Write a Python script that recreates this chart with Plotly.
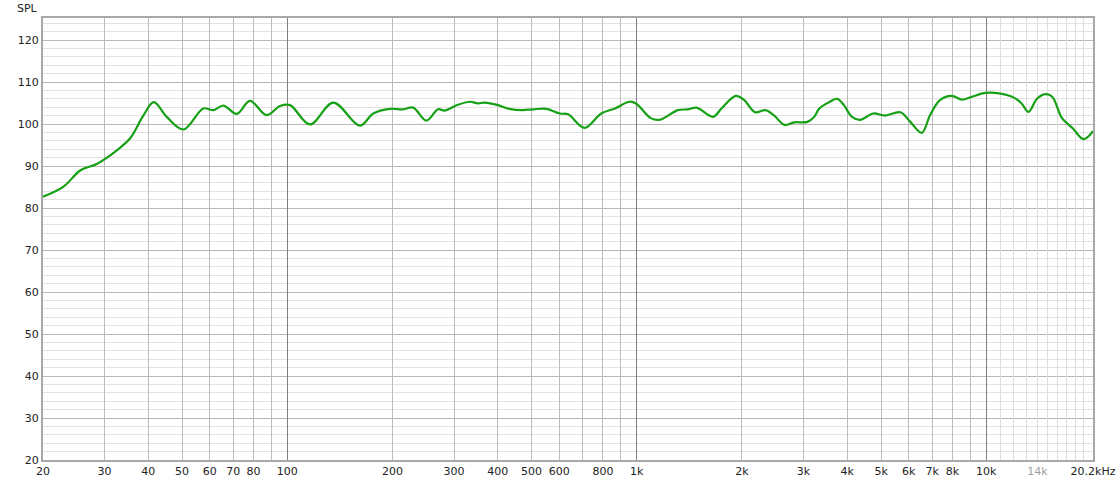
import plotly.graph_objects as go
import math

# ---- data ----
freq_hz = [20, 22.9, 25.6, 28.5, 32.6, 35.5, 38.8, 41.5, 45.2, 50.5, 57.5, 61.5, 65.6,
           71.7, 78.2, 87.3, 95.3, 101.8, 116.1, 135.4, 161.3, 176.2, 196.6, 214.6,
           229.2, 250, 270, 282, 304, 333, 351, 367, 401, 432, 472, 505, 551, 603,
           636, 709, 791, 866, 953, 995, 1097, 1160, 1312, 1402, 1483, 1653, 1747,
           1920, 2029, 2180, 2333, 2467, 2643, 2820, 3080, 3218, 3329, 3551, 3748,
           3913, 4128, 4358, 4753, 5137, 5676, 6063, 6539, 6904, 7371, 7970, 8518,
           9100, 9955, 10880, 11920, 12620, 13210, 13970, 14780, 15440, 16470,
           17670, 18980, 20200]
spl_db = [82.7, 85.1, 89.0, 90.5, 93.8, 96.6, 102.1, 105.2, 101.7, 98.7, 103.7, 103.3,
          104.4, 102.4, 105.5, 102.1, 104.3, 104.5, 99.9, 105.1, 99.6, 102.5, 103.6,
          103.5, 103.9, 100.8, 103.5, 103.2, 104.4, 105.3, 104.9, 105.1, 104.5, 103.6,
          103.3, 103.5, 103.6, 102.5, 102.3, 99.1, 102.5, 103.7, 105.3, 104.9, 101.4,
          101.0, 103.3, 103.5, 103.9, 101.7, 103.7, 106.7, 105.7, 102.8, 103.3, 102.1,
          99.8, 100.4, 100.5, 101.7, 103.7, 105.2, 106.0, 104.5, 101.7, 101.0, 102.5,
          102.0, 102.8, 100.5, 97.9, 102.1, 105.7, 106.7, 105.8, 106.5, 107.4, 107.3,
          106.4, 104.9, 102.9, 106.0, 107.1, 106.5, 101.4, 99.0, 96.4, 98.3]

label_vals = [20, 30, 40, 50, 60, 70, 80, 100, 200, 300, 400, 500, 600, 800, 1000,
              2000, 3000, 4000, 5000, 6000, 7000, 8000, 10000, 14000, 20200]
label_text = ["20", "30", "40", "50", "60", "70", "80", "100", "200", "300", "400", "500",
              "600", "800", "1k", "2k", "3k", "4k", "5k", "6k", "7k", "8k", "10k",
              '<span style="color:#a0a0a0">14k</span>', "20.2kHz"]
grid_normal = [30, 40, 50, 60, 70, 80, 90, 200, 300, 400, 500, 600, 700, 800, 900,
               2000, 3000, 4000, 5000, 6000, 7000, 8000, 9000]
grid_decade = [100, 1000, 10000]
grid_light = [11000, 12000, 13000, 14000, 15000, 16000, 17000, 18000, 19000]
y_ticks = [20, 30, 40, 50, 60, 70, 80, 90, 100, 110, 120]

xr = [math.log10(20), math.log10(20200)]
yr = [20, 125.24]
font = dict(family="DejaVu Sans", size=11, color="#222222")

fig = go.Figure()
for ax in ["x2", "x3", "x4"]:
    fig.add_trace(go.Scatter(x=[], y=[], xaxis=ax, yaxis="y", showlegend=False,
                             hoverinfo="skip"))
fig.add_trace(go.Scatter(x=freq_hz, y=spl_db, mode="lines",
                         line=dict(color="#16a016", width=2.2, shape="spline",
                                   smoothing=1.0),
                         showlegend=False))

common = dict(type="log", range=xr, showticklabels=False, ticks="", overlaying="x",
              anchor="y", showline=False, zeroline=False, gridwidth=1)
fig.update_layout(
    width=1116, height=484,
    margin=dict(l=43, r=23, t=18, b=24, autoexpand=False),
    paper_bgcolor="white", plot_bgcolor="white",
    font=font,
    xaxis=dict(type="log", range=xr, tickvals=label_vals, ticktext=label_text,
               showgrid=False, ticks="", zeroline=False, tickfont=font,
               showline=True, mirror=True, linecolor="#a8a8a8", linewidth=2,
               automargin=False),
    xaxis2=dict(tickvals=grid_normal, showgrid=True, gridcolor="#bcbcbc", **common),
    xaxis3=dict(tickvals=grid_decade, showgrid=True, gridcolor="#7f7f7f", **common),
    xaxis4=dict(tickvals=grid_light, showgrid=True, gridcolor="#dedede", **common),
    yaxis=dict(range=yr, tickvals=y_ticks, showgrid=True, gridcolor="#b8b8b8",
               gridwidth=1, zeroline=False, ticks="", tickfont=font,
               showline=True, mirror=True, linecolor="#a8a8a8", linewidth=2,
               minor=dict(dtick=2, showgrid=True, gridcolor="#e2e2e2", gridwidth=1),
               automargin=False),
    annotations=[dict(text="SPL", xref="paper", yref="paper", x=-0.0143, y=1.0,
                      xanchor="center", yanchor="bottom", yshift=1, showarrow=False,
                      font=font)],
)
fig.write_html("out.html", config={"displayModeBar": False},
               post_script="document.body.style.margin='0';document.body.style.overflow='hidden';")
